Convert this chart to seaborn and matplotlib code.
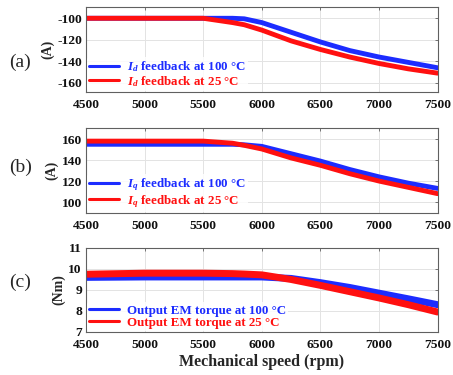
import numpy as np
import pandas as pd
import matplotlib
matplotlib.use("Agg")
import matplotlib.pyplot as plt
import seaborn as sns

# ---- data ----
speed = [4500, 5000, 5500, 5750, 5850, 6000, 6250, 6500, 6750, 7000, 7250, 7500]
id_100 = [-100, -100, -100, -100, -100.5, -104, -113, -122, -130, -136, -141, -146]
id_25 = [-100, -100, -100, -104, -106, -111, -121, -129, -136, -142, -147, -151]
iq_100 = [155, 155, 155, 155, 154.5, 153, 146, 139, 131, 124, 118, 113]
iq_25 = [158, 158, 158, 156, 154, 150.5, 142, 135, 127, 120, 114, 108]
tq_100 = [9.6, 9.62, 9.62, 9.62, 9.62, 9.62, 9.55, 9.35, 9.12, 8.85, 8.58, 8.3]
tq_25 = [9.75, 9.8, 9.8, 9.78, 9.76, 9.72, 9.5, 9.22, 8.92, 8.62, 8.3, 7.95]

xticks = [4500, 5000, 5500, 6000, 6500, 7000, 7500]
yticks_a = [-160, -140, -120, -100]
yticks_b = [100, 120, 140, 160]
yticks_c = [7, 8, 9, 10, 11]

labels_a = [r"$\mathbfit{I}_{\mathbfit{d}}$ feedback at 100 °C", r"$\mathbfit{I}_{\mathbfit{d}}$ feedback at 25 °C"]
labels_b = [r"$\mathbfit{I}_{\mathbfit{q}}$ feedback at 100 °C", r"$\mathbfit{I}_{\mathbfit{q}}$ feedback at 25 °C"]
labels_c = ["Output EM torque at 100 °C", "Output EM torque at 25 °C"]

sns.set_style("white")
plt.rcParams['font.family'] = ['Liberation Serif', 'DejaVu Serif']
plt.rcParams['axes.unicode_minus'] = False
plt.rcParams['mathtext.fontset'] = 'custom'
plt.rcParams['mathtext.bfit'] = 'Liberation Serif:bold:italic'
plt.rcParams['mathtext.it'] = 'Liberation Serif:italic:bold'
plt.rcParams['mathtext.rm'] = 'Liberation Serif:bold'

BLUE = "#1c2cff"
RED = "#ff1010"

fig = plt.figure(figsize=(4.53, 3.75), dpi=100)
L, W = 0.190, 0.776
ax_a = fig.add_axes([L, 0.7547, W, 0.2267])
ax_b = fig.add_axes([L, 0.432, W, 0.2267])
ax_c = fig.add_axes([L, 0.1147, W, 0.224])

def panel(ax, y100, y25, labels, yticks, ylim, ylabel, plabel, plabel_y, lw):
    df = pd.DataFrame({"speed": speed * 2,
                       "val": list(y100) + list(y25),
                       "series": [labels[0]] * len(speed) + [labels[1]] * len(speed)})
    sns.lineplot(data=df, x="speed", y="val", hue="series",
                 palette={labels[0]: BLUE, labels[1]: RED},
                 ax=ax, linewidth=lw, legend=False)
    ax.set_xlim(4500, 7500)
    ax.set_ylim(*ylim)
    ax.set_xticks(xticks)
    ax.set_yticks(yticks)
    ax.grid(True, color="#e3e3e3", linewidth=0.7)
    ax.set_axisbelow(True)
    for s in ax.spines.values():
        s.set_color("#606060")
        s.set_linewidth(0.8)
    ax.tick_params(direction="in", length=2.5, width=0.6, colors="#606060",
                   top=True, right=True, labelsize=9.7, labelcolor="#111111")
    ax.tick_params(axis="x", pad=5)
    ax.tick_params(axis="y", pad=3)
    for t in ax.get_xticklabels() + ax.get_yticklabels():
        t.set_fontweight("bold")
    ax.set_xlabel("")
    ax.set_ylabel(ylabel, fontsize=10, fontweight="bold", labelpad=2)
    handles = [plt.Line2D([], [], color=BLUE, lw=2.2), plt.Line2D([], [], color=RED, lw=2.2)]
    leg = ax.legend(handles, labels, loc="lower left", bbox_to_anchor=(0.0, 0.0),
                    frameon=True, fontsize=9.4, handlelength=2.3, handletextpad=0.6,
                    borderpad=0.15, labelspacing=0.0, borderaxespad=0.1)
    leg.get_frame().set_edgecolor("none")
    leg.get_frame().set_facecolor("white")
    leg.get_frame().set_alpha(0.85)
    for txt, c in zip(leg.get_texts(), [BLUE, RED]):
        txt.set_color(c)
        txt.set_fontweight("bold")
    fig.text(0.045, plabel_y, plabel, fontsize=14, ha="center", va="center")

panel(ax_a, id_100, id_25, labels_a, yticks_a, (-168.5, -89.5), "(A)", "(a)", 1 - 62 / 375, 3.5)
panel(ax_b, iq_100, iq_25, labels_b, yticks_b, (89.6, 170.5), "(A)", "(b)", 1 - 167 / 375, 3.5)
panel(ax_c, tq_100, tq_25, labels_c, yticks_c, (7, 11), "(Nm)", "(c)", 1 - 282 / 375, 5.0)
ax_c.set_xlabel("Mechanical speed (rpm)", fontsize=11.5, fontweight="bold", labelpad=2)

fig.savefig("out.png", dpi=100)
